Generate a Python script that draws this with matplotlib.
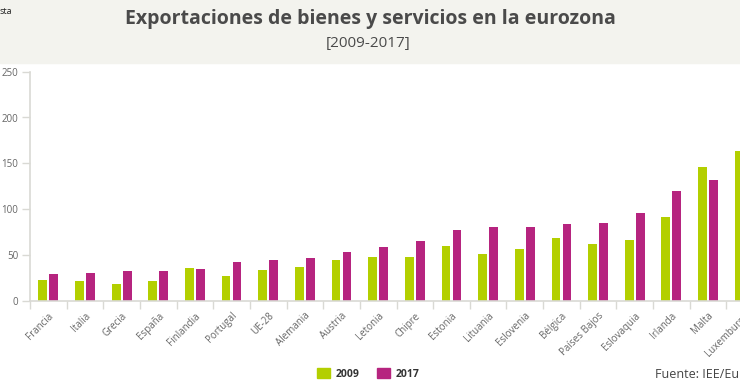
import numpy as np
import matplotlib.pyplot as plt
from matplotlib.patches import Rectangle, Patch

paises = ['Francia', 'Italia', 'Grecia', 'España', 'Finlandia', 'Portugal', 'UE-28',
          'Alemania', 'Austria', 'Letonia', 'Chipre', 'Estonia', 'Lituania', 'Eslovenia',
          'Bélgica', 'Países Bajos', 'Eslovaquia', 'Irlanda', 'Malta', 'Luxemburgo']
v2009 = [22.6, 21.8, 18.2, 22.0, 35.4, 26.6, 33.5, 36.5, 44.4, 47.4,
         47.4, 59.7, 51.0, 56.4, 68.1, 61.9, 66.3, 91.7, 146.3, 163.8]
v2017 = [29.0, 30.0, 32.0, 32.8, 34.6, 42.2, 44.4, 46.3, 52.8, 59.0,
         64.8, 76.8, 80.0, 80.8, 83.7, 84.5, 95.4, 120.1, 131.8, 200.0]
yticks = [0, 50, 100, 150, 200, 250]

verde = '#b3cf00'
magenta = '#b6247f'
gris = '#666666'
linea = '#d9d9d4'

plt.rcParams['font.family'] = ['Open Sans', 'DejaVu Sans']

fig = plt.figure(figsize=(7.4, 3.89), dpi=100)
W, H = 740, 389

# banda de cabecera
fig.patches.append(Rectangle((0, 1 - 63 / H), 1, 63 / H, transform=fig.transFigure,
                             color='#f3f3ee', zorder=0))
fig.text(0, 1 - 12 / H, 'sta', fontsize=6.5, color='#222222', va='center', ha='left')
fig.text(370 / W, 1 - 19 / H, 'Exportaciones de bienes y servicios en la eurozona',
         fontsize=14, fontweight='bold', color='#4a4a4a', ha='center', va='center')
fig.text(368 / W, 1 - 44 / H, '[2009-2017]', fontsize=11, color='#4a4a4a',
         ha='center', va='center')

ax = fig.add_axes([30 / W, 88.3 / H, (763 - 30) / W, (300.7 - 71.7) / H])
x = np.arange(len(paises))
ax.bar(x - 0.15, v2009, width=0.24, color=verde, label='2009')
ax.bar(x + 0.15, v2017, width=0.24, color=magenta, label='2017')

ax.set_xlim(-0.5, len(paises) - 0.5)
ax.set_ylim(0, 250)
ax.set_yticks(yticks)
ax.set_xticks(x)
ax.set_xticklabels(paises, rotation=45, ha='right', rotation_mode='anchor')
ax.set_xticks(np.arange(len(paises) + 1) - 0.5, minor=True)
ax.tick_params(axis='x', which='major', length=0, pad=7, labelsize=7, labelcolor=gris)
ax.tick_params(axis='x', which='minor', length=5.5, color=linea, width=1)
ax.tick_params(axis='y', length=6, color=linea, width=1, pad=2.5, labelsize=7, labelcolor=gris)

for s in ['top', 'right']:
    ax.spines[s].set_visible(False)
for s in ['left', 'bottom']:
    ax.spines[s].set_color(linea)
    ax.spines[s].set_linewidth(1.2)

handles = [Patch(color=verde, label='2009'), Patch(color=magenta, label='2017')]
leg = fig.legend(handles=handles, loc='center', bbox_to_anchor=(368 / W, 15 / H), ncol=2,
                 frameon=False, fontsize=7.5, handlelength=1.3, handleheight=1.0,
                 columnspacing=1.7, handletextpad=0.5)
for t in leg.get_texts():
    t.set_fontweight('bold')
    t.set_color('#333333')

fig.text(655 / W, 14 / H, 'Fuente: IEE/Eurostat', fontsize=9, color='#444444',
         ha='left', va='center')

fig.savefig('out.png', dpi=100)
